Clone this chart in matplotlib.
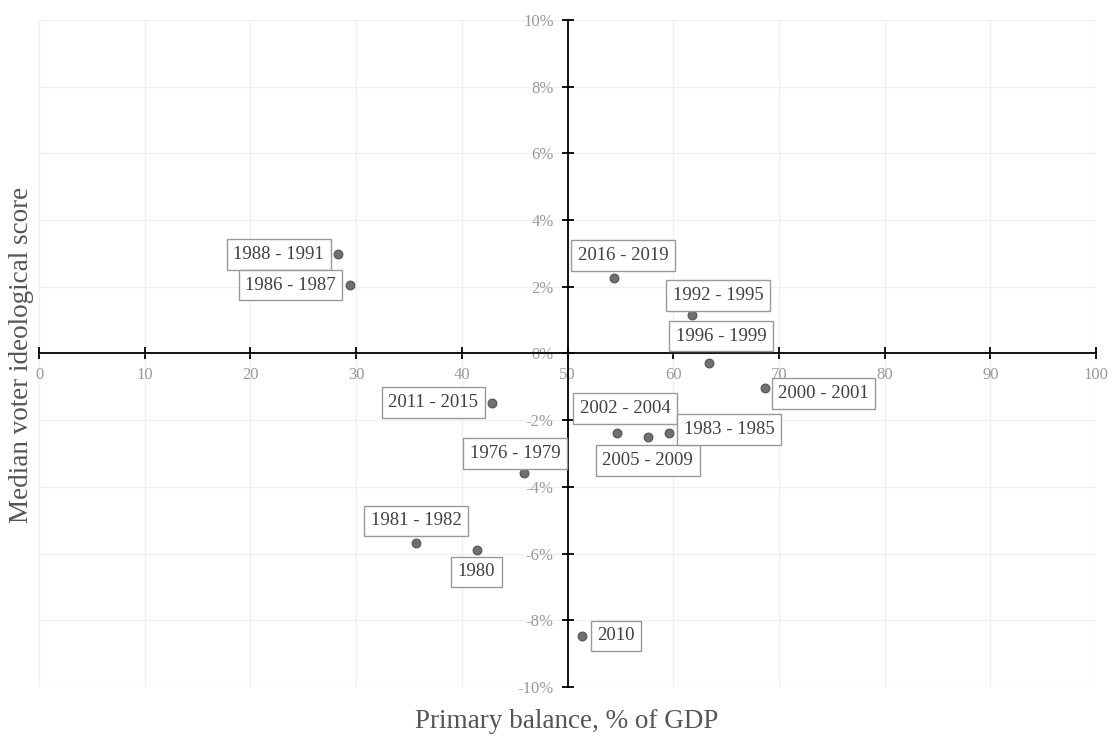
import matplotlib.pyplot as plt
from matplotlib.ticker import FuncFormatter, MultipleLocator

# data
periods = ["1988 - 1991", "1986 - 1987", "2016 - 2019", "1992 - 1995", "1996 - 1999",
           "2000 - 2001", "2002 - 2004", "2005 - 2009", "1983 - 1985", "1976 - 1979",
           "2011 - 2015", "1981 - 1982", "1980", "2010"]
balance = [28.3, 29.4, 54.4, 61.8, 63.4, 68.7, 54.7, 57.6, 59.6, 45.9, 42.9, 35.7, 41.4, 51.4]
score = [2.97, 2.05, 2.25, 1.14, -0.29, -1.02, -2.37, -2.49, -2.37, -3.57, -1.47, -5.67, -5.88, -8.46]

# label placement (pixels from the point, alignment)
label_pos = [(-14, 0, "right"), (-14, 0, "right"), (9, 23, "center"), (26, 20, "center"),
             (12, 27, "center"), (13, -6, "left"), (8, 24, "center"), (0, -24, "center"),
             (15, 3, "left"), (-9, 19, "center"), (-14, 0, "right"), (0, 22, "center"),
             (0, -22, "center"), (15, 0, "left")]

plt.rcParams['font.family'] = ['Liberation Serif', 'DejaVu Serif']

fig = plt.figure(figsize=(11.13, 7.4), dpi=100)
ax = fig.add_axes([39 / 1113, 1 - 687 / 740, 1057 / 1113, 667 / 740])

ax.set_xlim(0, 100)
ax.set_ylim(-10, 10)
ax.xaxis.set_major_locator(MultipleLocator(10))
ax.yaxis.set_major_locator(MultipleLocator(2))
ax.yaxis.set_major_formatter(FuncFormatter(lambda v, p: f"{v:.0f}%"))
ax.grid(True, color='#f0f0f0', linewidth=1)
ax.set_axisbelow(True)

for s in ['top', 'right']:
    ax.spines[s].set_visible(False)
ax.spines['left'].set_position(('data', 50))
ax.spines['bottom'].set_position(('data', 0))
for s in ['left', 'bottom']:
    ax.spines[s].set_linewidth(1.3)
    ax.spines[s].set_color('black')
ax.tick_params(direction='inout', length=8, width=1.3, color='black',
               labelsize=12, labelcolor='#999999', pad=6)

ax.scatter(balance, score, s=40, color='#707070', edgecolor='#555555',
           linewidth=0.8, zorder=3)

for name, x, y, (dx, dy, ha) in zip(periods, balance, score, label_pos):
    ax.annotate(name, (x, y), xytext=(dx, dy), textcoords='offset pixels',
                ha=ha, va='center', fontsize=13.5, color='#404040',
                bbox=dict(boxstyle='square,pad=0.35', fc='white', ec='#999999', lw=1),
                zorder=4)

fig.text(567 / 1113, 1 - 722 / 740, "Primary balance, % of GDP", ha='center', va='center',
         fontsize=19.5, color='#555555')
fig.text(22 / 1113, 1 - 355 / 740, "Median voter ideological score", ha='center', va='center',
         rotation=90, fontsize=19.5, color='#555555')

plt.savefig('out.png')
